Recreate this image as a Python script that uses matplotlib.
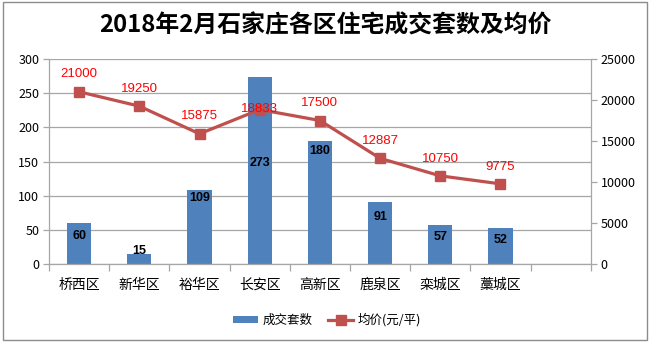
import matplotlib
matplotlib.use("Agg")
import matplotlib.pyplot as plt
from matplotlib.patches import Rectangle
import numpy as np

plt.rcParams['font.family'] = ['Noto Sans CJK SC', 'DejaVu Sans']

categories = ["桥西区", "新华区", "裕华区", "长安区", "高新区", "鹿泉区", "栾城区", "藁城区", ""]
deals = [60, 15, 109, 273, 180, 91, 57, 52]
prices = [21000, 19250, 15875, 18833, 17500, 12887, 10750, 9775]
bar_name = "成交套数"
line_name = "均价(元/平)"
title = "2018年2月石家庄各区住宅成交套数及均价"

bar_color = "#4F81BD"
line_color = "#C0504D"
grid_color = "#A6A6A6"

fig = plt.figure(figsize=(6.5, 3.42), dpi=100)
fig.patches.append(Rectangle((0.004, 0.006), 0.992, 0.988, transform=fig.transFigure,
                             fill=False, edgecolor="#8C8C8C", linewidth=1.0))

ax = fig.add_axes([0.0754, 0.228, 0.8335, 0.5995])
ax2 = ax.twinx()

x = np.arange(len(categories))
bx = x[:len(deals)]
ax.bar(bx, deals, width=0.4, color=bar_color, zorder=2, label=bar_name)
ax.set_xlim(-0.5, len(categories) - 0.5)
ax.set_ylim(0, 300)
ax.set_yticks(np.arange(0, 301, 50))
ax.yaxis.grid(True, color=grid_color, linewidth=0.9)
ax.set_axisbelow(True)
ax.set_xticks(x)
ax.set_xticklabels(categories, fontsize=10)
ax.set_xticks(np.arange(-0.5, len(categories)), minor=True)
ax.tick_params(axis='x', which='major', length=0, pad=10)
ax.tick_params(axis='x', which='minor', length=5, color=grid_color, width=0.9)
ax.tick_params(axis='y', length=4, color=grid_color, width=0.9, labelsize=9, pad=3)
for s in ['top', 'right']:
    ax.spines[s].set_visible(False)
for s in ['left', 'bottom']:
    ax.spines[s].set_color(grid_color)
    ax.spines[s].set_linewidth(0.9)

# bar label offsets from bar top (pixels)
bar_offsets = [-13, 3, -8, -86, -10, -15, -12, -12]
for xi, v, off in zip(bx, deals, bar_offsets):
    ax.annotate(str(v), (xi, v), xytext=(0, off * 0.72), textcoords='offset points',
                ha='center', va='center', fontsize=9, fontweight='bold', color='black',
                family=['Liberation Sans', 'DejaVu Sans'], zorder=5)

ax2.plot(bx, prices, color=line_color, linewidth=2.3, marker='s', markersize=6.5,
         zorder=4, label=line_name)
ax2.set_ylim(0, 25000)
ax2.set_yticks(np.arange(0, 25001, 5000))
ax2.tick_params(axis='y', length=4, color=grid_color, width=0.9, labelsize=9, pad=3)
for s in ['top', 'left', 'bottom']:
    ax2.spines[s].set_visible(False)
ax2.spines['right'].set_color(grid_color)
ax2.spines['right'].set_linewidth(0.9)

line_offsets = [18, 17, 18, 1, 18, 17, 17, 17]
for xi, v, off in zip(bx, prices, line_offsets):
    ax2.annotate(str(v), (xi, v), xytext=(0, off * 0.72), textcoords='offset points',
                 ha='center', va='center', fontsize=9.5, color='#FF0000',
                 family=['Liberation Sans', 'DejaVu Sans'], zorder=6)

fig.text(0.5, 0.925, title, ha='center', va='center', fontsize=17.2, fontweight='bold')

h1, l1 = ax.get_legend_handles_labels()
h2, l2 = ax2.get_legend_handles_labels()
fig.legend(h1 + h2, l1 + l2, loc='center', bbox_to_anchor=(0.503, 0.064), ncol=2,
           frameon=False, fontsize=9, handlelength=2.0, handleheight=0.55,
           columnspacing=1.3, handletextpad=0.35)

fig.savefig("out.png", dpi=100)
